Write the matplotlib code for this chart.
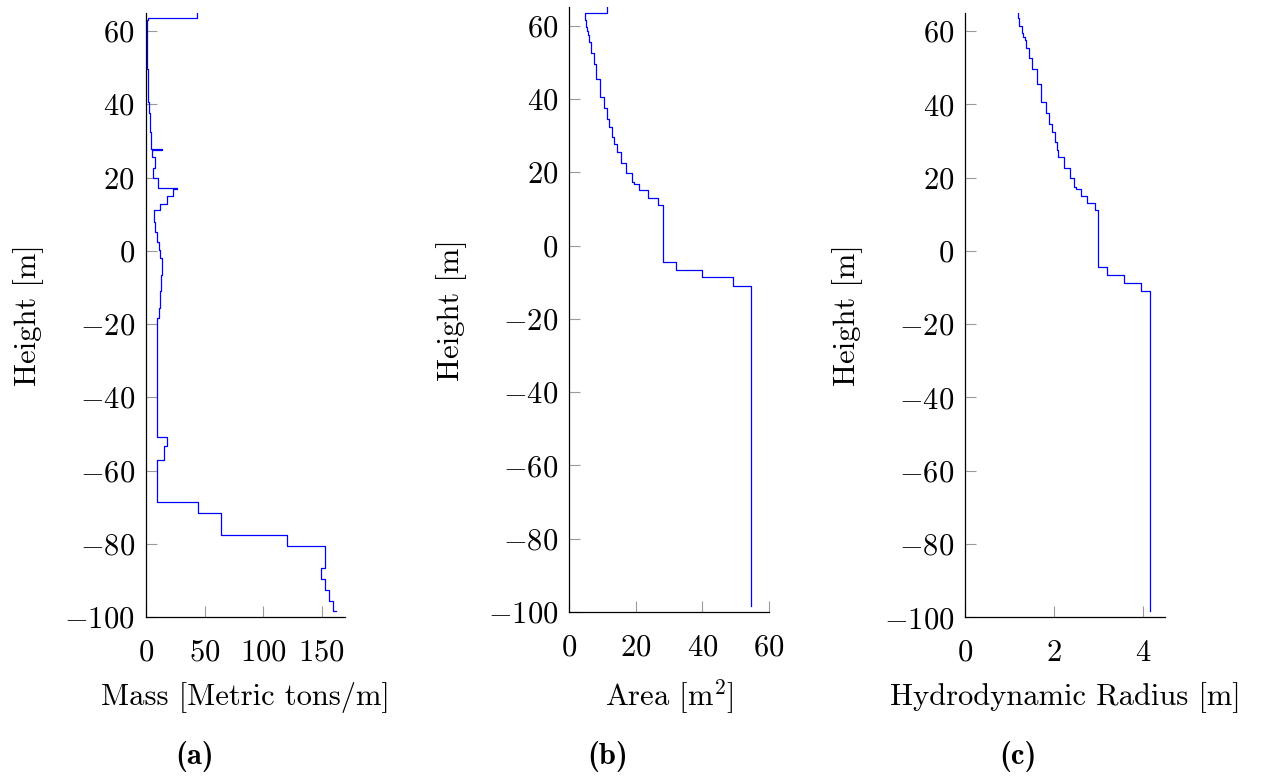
import matplotlib
matplotlib.use("Agg")
import matplotlib.pyplot as plt

# ---------------- data ----------------
# Panel (a): mass per metre, step profile (bottom -> top)
height_mass = [-98.4, -95.5, -92.5, -89.6, -86.6, -80.7, -77.7, -71.7, -68.7, -57.0,
               -53.3, -50.9, -18.4, -15.5, -11.0, -6.6, -2.1, 0.2, 2.5, 5.2,
               7.9, 11.1, 12.9, 15.0, 16.9, 17.2, 19.9, 22.5, 25.5, 27.5,
               27.7, 29.7, 32.5, 34.5, 37.5, 40.5, 45.5, 49.5, 52.5, 55.5,
               57.5, 58.5, 59.5, 61.5, 63.0, 63.5, 65.0]
mass = [162.7, 159.8, 156.4, 153.3, 149.9, 152.7, 120.3, 64.3, 44.1, 9.7,
        15.1, 17.9, 9.7, 11.4, 12.1, 12.7, 13.3, 11.9, 10.8, 9.4,
        7.7, 6.5, 11.9, 17.6, 22.8, 26.2, 10.5, 6.3, 7.4, 4.8,
        13.9, 4.3, 4.0, 3.4, 3.0, 2.6, 2.1, 1.5, 1.2, 0.9,
        0.8, 0.7, 0.7, 0.6, 1.1, 2.0, 43.2]

# Panels (b) and (c): section profile (bottom -> top)
height_sec = [-98.4, -11.0, -8.7, -6.6, -4.5, 11.1, 13.1, 15.1, 16.8, 17.3,
              19.9, 22.6, 25.6, 27.6, 29.7, 32.4, 34.5, 37.5, 40.5, 45.5,
              49.5, 52.6, 55.4, 57.5, 58.4, 59.5, 61.5, 63.5, 65.0]
area = [54.5, 54.5, 49.1, 40.0, 32.0, 28.2, 26.7, 23.7, 21.0, 19.5,
        18.7, 17.1, 15.5, 14.2, 13.4, 12.7, 11.9, 11.3, 10.4, 9.3,
        8.1, 7.3, 6.6, 5.9, 5.6, 5.3, 4.9, 4.6, 11.2]
radius = [4.17, 4.17, 3.96, 3.58, 3.20, 3.00, 2.92, 2.75, 2.60, 2.50,
          2.45, 2.35, 2.23, 2.10, 2.075, 2.015, 1.955, 1.89, 1.81, 1.71,
          1.61, 1.51, 1.435, 1.375, 1.34, 1.31, 1.27, 1.22, 1.195]

y_ticks = [-100, -80, -60, -40, -20, 0, 20, 40, 60]
xticks_a = [0, 50, 100, 150]
xticks_b = [0, 20, 40, 60]
xticks_c = [0, 2, 4]
subcaptions = ['(a)', '(b)', '(c)']

# ---------------- style ----------------
plt.rcParams['font.family'] = 'serif'
plt.rcParams['font.serif'] = ['cmr10', 'DejaVu Serif']
plt.rcParams['mathtext.fontset'] = 'cm'
plt.rcParams['axes.formatter.use_mathtext'] = True
plt.rcParams['axes.unicode_minus'] = True

FS = 22
W, H = 1264, 780
fig = plt.figure(figsize=(W / 100, H / 100), dpi=100)


def make_ax(left, right, top, bottom):
    return fig.add_axes([left / W, 1 - bottom / H, (right - left) / W, (bottom - top) / H])


ax_a = make_ax(146, 345, 12.7, 617)
ax_b = make_ax(569.3, 769, 7.3, 612)
ax_c = make_ax(965.3, 1165, 12.7, 617.3)

panels = [
    (ax_a, mass, height_mass, (0, 170), xticks_a, 'Mass [Metric tons/m]'),
    (ax_b, area, height_sec, (0, 60), xticks_b, 'Area [m$^2$]'),
    (ax_c, radius, height_sec, (0, 4.5), xticks_c, 'Hydrodynamic Radius [m]'),
]

for ax, xv, yv, xlim, xt, xlabel in panels:
    ax.step(xv, yv, where='post', color=(0, 0, 1), lw=0.9)
    ax.set_xlim(*xlim)
    ax.set_ylim(-100, 65)
    ax.set_xticks(xt)
    ax.set_yticks(y_ticks)
    ax.set_xticklabels(['$%g$' % v for v in xt])
    ax.set_yticklabels(['$%g$' % v if v >= 0 else '$-%g$' % (-v) for v in y_ticks])
    for s in ('top', 'right'):
        ax.spines[s].set_visible(False)
    for s in ('left', 'bottom'):
        ax.spines[s].set_linewidth(0.9)
        ax.spines[s].set_color('black')
    ax.tick_params(direction='in', length=8, width=0.8, color='#9a9a9a',
                   labelsize=FS, pad=8)
    ax.tick_params(axis='x', pad=16)
    ax.set_xlabel(xlabel, fontsize=FS, labelpad=11)
    ax.set_ylabel('Height [m]', fontsize=FS, labelpad=15)

for x, lab in zip([195, 608, 1018], subcaptions):
    fig.text(x / W, 1 - 757 / H, lab, fontsize=FS, family=['cmb10', 'DejaVu Serif'],
             ha='center', va='center')

fig.savefig('out.png', dpi=100)
